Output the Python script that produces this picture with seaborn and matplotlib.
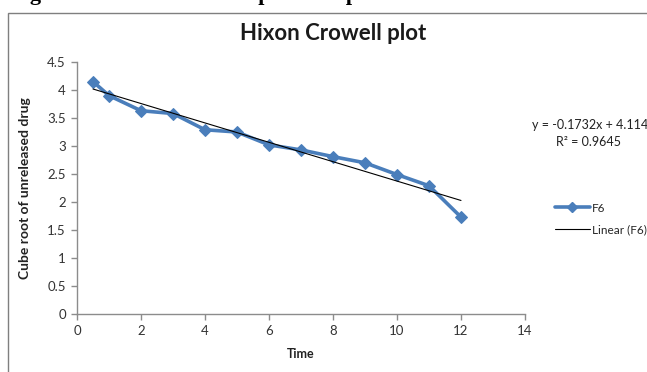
import matplotlib
matplotlib.use("Agg")
import matplotlib.pyplot as plt
import matplotlib.patches as mpatches
from matplotlib.lines import Line2D
import seaborn as sns
import pandas as pd

# ---- data ----
time = [0.5, 1, 2, 3, 4, 5, 6, 7, 8, 9, 10, 11, 12]
cube_root = [4.15, 3.90, 3.63, 3.58, 3.29, 3.25, 3.02, 2.93, 2.81, 2.70, 2.49, 2.29, 1.73]
series_name = "F6"
trend_label = "Linear (F6)"
equation_text = "y = -0.1732x + 4.1149"
r2_text = "R² = 0.9645"
title = "Hixon Crowell plot"
xlabel = "Time"
ylabel = "Cube root of unreleased drug"
caption = "Figure 10: Hixon Crowell plot for optimized formulation"
xticks = [0, 2, 4, 6, 8, 10, 12, 14]
yticks = [0, 0.5, 1, 1.5, 2, 2.5, 3, 3.5, 4, 4.5]

df = pd.DataFrame({"Time": time, "Value": cube_root})

sns.set_theme(style="white")
plt.rcParams['font.family'] = ['Lato', 'DejaVu Sans']

W, H = 647, 372
fig = plt.figure(figsize=(W / 100, H / 100), dpi=100)
ax = fig.add_axes([77 / W, 1 - 314 / H, (525 - 77) / W, (314 - 62) / H])

blue = "#4A7EBB"
sns.lineplot(data=df, x="Time", y="Value", ax=ax, color=blue, linewidth=2.6,
             marker="D", markersize=6.5, markeredgecolor=blue, legend=False)
sns.regplot(data=df, x="Time", y="Value", ax=ax, scatter=False, ci=None,
            color="black", line_kws={"linewidth": 0.8})

ax.set_xlim(0, 14)
ax.set_ylim(0, 4.5)
ax.set_xticks(xticks)
ax.set_yticks(yticks)
ax.set_xticklabels([str(t) for t in xticks])
ax.set_yticklabels([("%g" % t) for t in yticks])
for s in ["top", "right"]:
    ax.spines[s].set_visible(False)
for s in ["left", "bottom"]:
    ax.spines[s].set_color("#8c8c8c")
    ax.spines[s].set_linewidth(1.0)
ax.tick_params(axis="both", direction="out", length=4, width=1, color="#8c8c8c",
               labelsize=9.5, labelcolor="#333333", pad=4, bottom=True, left=True)
ax.grid(False)

ax.set_xlabel(xlabel, fontsize=9, fontweight="bold", color="#222222", labelpad=8)
ax.set_ylabel(ylabel, fontsize=10, fontweight="bold", color="#222222", labelpad=12)

fig.text(333 / W, 1 - 33 / H, title, ha="center", va="center", fontsize=16,
         fontweight="bold", color="#1a1a1a")

fig.text(532 / W, 1 - 125 / H, equation_text, ha="left", va="center", fontsize=9,
         color="#222222")
fig.text(588 / W, 1 - 142 / H, r2_text, ha="center", va="center", fontsize=9,
         color="#222222")

handles = [Line2D([0], [0], color=blue, lw=2.6, marker="D", markersize=5),
           Line2D([0], [0], color="black", lw=0.8)]
fig.legend(handles, [series_name, trend_label], loc="upper left",
           bbox_to_anchor=(544 / W, 1 - 192 / H), frameon=False, fontsize=8.5,
           handlelength=3.0, handletextpad=0.15, labelspacing=0.9)

# chart frame
frame = mpatches.Rectangle((8 / W, -0.1), 1.0, (1 - 13 / H) + 0.1,
                           transform=fig.transFigure, fill=False,
                           edgecolor="#7f7f7f", linewidth=1.0, clip_on=False)
fig.add_artist(frame)

# partially visible caption at top (cut off by the page edge)
fig.text(10 / W, 1.0, caption, ha="left", va="baseline", fontsize=16,
         fontweight="bold", family=["Liberation Serif", "DejaVu Serif"], color="black")

fig.savefig("out.png", dpi=100)
